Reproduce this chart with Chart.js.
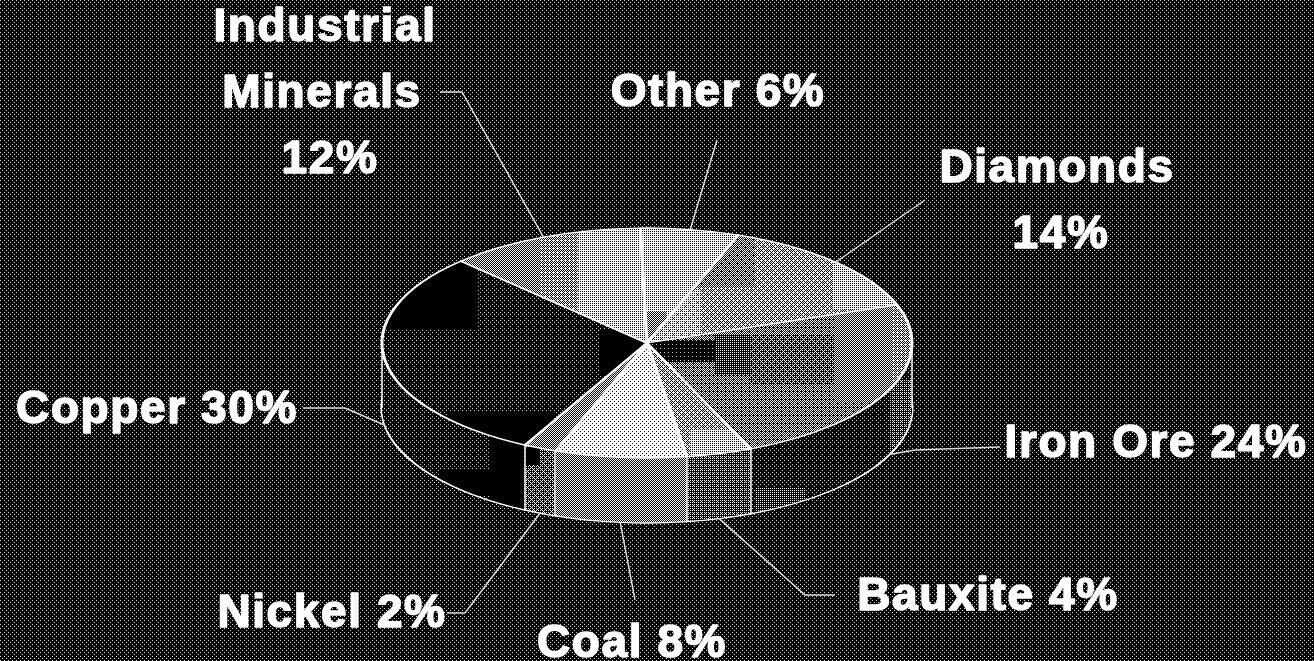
<!DOCTYPE html>
<html>
<head>
<meta charset="utf-8">
<style>
  html, body { margin: 0; padding: 0; background: #000; overflow: hidden; }
  #wrap { width: 1314px; height: 661px; }
</style>
<script src="https://cdn.jsdelivr.net/npm/chart.js@4"></script>
</head>
<body>
<div id="wrap"><canvas id="chart" width="1314" height="661"></canvas></div>
<script>
const categories = ['Copper', 'Industrial Minerals', 'Other', 'Diamonds', 'Iron Ore', 'Bauxite', 'Coal', 'Nickel'];
const shares = [30, 12, 6, 14, 24, 4, 8, 2];
const firstSliceAngle = 207.4;

const W = 1314, H = 661;
const radiusX = 265, radiusY = 115, depth = 65;
const squash = radiusY / radiusX;

// text lines, centre x per line, first baseline and the leader from the label to the elbow
const labelLayout = [
  { lines: ['Copper 30%'], x: [157], y: 423, leader: [[303, 408], [345, 408]] },
  { lines: ['Industrial', 'Minerals', '12%'], x: [325, 322, 330], y: 41, gap: 66, leader: [[440, 92], [462, 92]] },
  { lines: ['Other 6%'], x: [718], y: 106, leader: [[717, 140]] },
  { lines: ['Diamonds', '14%'], x: [1057, 1061], y: 182, gap: 66, leader: [[925, 200]] },
  { lines: ['Iron Ore 24%'], x: [1156], y: 457, leader: [[1000, 447], [915, 450]] },
  { lines: ['Bauxite 4%'], x: [988], y: 610, leader: [[835, 595], [805, 595]] },
  { lines: ['Coal 8%'], x: [632], y: 657, leader: [[635, 600]] },
  { lines: ['Nickel 2%'], x: [332], y: 627, leader: [[447, 613], [465, 613]] }
];

// dither levels: base level + rectangles [x0, y0, x1, y1, level]
const topTextures = [
  [0.11, [[380, 255, 478, 330, 0], [600, 330, 650, 375, 0], [447, 412, 553, 445, 0]]],
  [0.5, [[540, 225, 578, 340, 0.56], [578, 225, 660, 345, 0.75]]],
  [0.75, [[645, 312, 666, 342, 0.5]]],
  [0.6, [[697, 235, 755, 287, 0.47], [833, 262, 900, 310, 0.75], [640, 290, 700, 345, 0.72]]],
  [0.45, [[650, 340, 715, 362, 0.06], [715, 335, 750, 375, 0.25], [750, 335, 835, 385, 0.34], [835, 300, 890, 400, 0.5], [890, 300, 915, 400, 0.56]]],
  [0.6, [[690, 430, 760, 460, 0.75]]],
  [0.88, []],
  [0.5, []]
];
const wallTextures = [
  [0.11, [[490, 432, 523, 510, 0], [440, 470, 490, 495, 0]]],
  [0.11, []],
  [0.11, []],
  [0.11, []],
  [0.11, [[890, 380, 915, 460, 0.3], [755, 488, 805, 512, 0.25]]],
  [0.3, []],
  [0.5, []],
  [0.34, [[525, 447, 540, 465, 0]]]
];

const bayer = (() => {
  let m = [[0]];
  while (m.length < 8) {
    const n = m.length, next = [];
    for (let y = 0; y < n * 2; y++) {
      next.push([]);
      for (let x = 0; x < n * 2; x++) {
        const add = [[0, 2], [3, 1]][y >= n ? 1 : 0][x >= n ? 1 : 0];
        next[y].push(4 * m[y % n][x % n] + add);
      }
    }
    m = next;
  }
  return m;
})();

const renderCtx = document.getElementById('chart').getContext('2d');

const makePattern = ([base, rects]) => {
  const c = document.createElement('canvas');
  c.width = W; c.height = H;
  const g = c.getContext('2d');
  const img = g.createImageData(W, H);
  for (let y = 0; y < H; y++) {
    for (let x = 0; x < W; x++) {
      let level = base;
      for (const r of rects) {
        if (x >= r[0] && x < r[2] && y >= r[1] && y < r[3]) level = r[4];
      }
      // the sparse dots read greyer than pure white in the reference
      const on = level < 0.2 ? 215 : 255;
      const v = level > (bayer[y & 7][x & 7] + 0.5) / 64 ? on : 0;
      const i = (y * W + x) * 4;
      img.data[i] = img.data[i + 1] = img.data[i + 2] = v;
      img.data[i + 3] = 255;
    }
  }
  g.putImageData(img, 0, 0);
  return renderCtx.createPattern(c, 'repeat');
};

const backgroundPattern = makePattern([0.11, []]);
const topPatterns = topTextures.map(makePattern);
const wallPatterns = wallTextures.map(makePattern);

const applySquash = (ctx, cy) => {
  ctx.translate(0, cy);
  ctx.scale(1, squash);
  ctx.translate(0, -cy);
};

const lockPattern = (ctx, pattern) => pattern.setTransform(ctx.getTransform().inverse());

const pie3d = {
  id: 'pie3d',
  beforeDraw(chart) {
    const ctx = chart.ctx;
    ctx.save();
    ctx.fillStyle = backgroundPattern;
    ctx.fillRect(0, 0, W, H);
    ctx.restore();
  },
  beforeDatasetsDraw(chart) {
    const ctx = chart.ctx;
    const arcs = chart.getDatasetMeta(0).data;
    const cx = arcs[0].x, cy = arcs[0].y;

    // side wall: same slices stacked from the bottom up
    for (let d = depth; d > 0; d--) {
      ctx.save();
      ctx.translate(0, d);
      applySquash(ctx, cy);
      arcs.forEach((arc, i) => {
        lockPattern(ctx, wallPatterns[i]);
        const opts = arc.options;
        arc.options = Object.assign({}, opts, {
          backgroundColor: wallPatterns[i],
          borderWidth: d === depth ? 3 : 0
        });
        arc.draw(ctx);
        arc.options = opts;
      });
      ctx.restore();
    }

    // wall edges
    ctx.save();
    ctx.strokeStyle = '#fff';
    ctx.lineWidth = 1.5;
    const edges = arcs.map(a => a.startAngle).filter(a => Math.sin(a) > 0);
    edges.push(0, Math.PI);
    edges.forEach(a => {
      const x = Math.round(cx + radiusX * Math.cos(a));
      const y = cy + radiusY * Math.sin(a);
      ctx.beginPath();
      ctx.moveTo(x, y);
      ctx.lineTo(x, y + depth);
      ctx.stroke();
    });
    ctx.restore();

    ctx.save();
    applySquash(ctx, cy);
    arcs.forEach((arc, i) => lockPattern(ctx, topPatterns[i]));
  },
  afterDatasetsDraw(chart) {
    const ctx = chart.ctx;
    ctx.restore();
    const arcs = chart.getDatasetMeta(0).data;

    ctx.save();
    ctx.strokeStyle = '#ddd';
    ctx.lineWidth = 1.5;
    arcs.forEach((arc, i) => {
      const mid = (arc.startAngle + arc.endAngle) / 2;
      const sin = Math.sin(mid);
      const rimX = arc.x + radiusX * Math.cos(mid);
      const rimY = arc.y + radiusY * sin + (sin > 0 ? depth : 0);
      ctx.beginPath();
      labelLayout[i].leader.forEach((p, j) => j ? ctx.lineTo(p[0], p[1]) : ctx.moveTo(p[0], p[1]));
      ctx.lineTo(rimX, rimY);
      ctx.stroke();
    });

    ctx.fillStyle = '#fff';
    ctx.strokeStyle = '#fff';
    ctx.lineWidth = 1.6;
    ctx.lineJoin = 'round';
    ctx.font = 'bold 46px "Liberation Sans", Arial, sans-serif';
    ctx.letterSpacing = '1.6px';
    ctx.textAlign = 'center';
    ctx.textBaseline = 'alphabetic';
    labelLayout.forEach(l => {
      l.lines.forEach((t, j) => {
        ctx.fillText(t, l.x[j], l.y + j * (l.gap || 0));
        ctx.strokeText(t, l.x[j], l.y + j * (l.gap || 0));
      });
    });
    ctx.restore();
  }
};

const chart = new Chart(document.getElementById('chart'), {
  type: 'pie',
  data: {
    labels: categories,
    datasets: [{
      data: shares,
      backgroundColor: topPatterns,
      borderColor: '#fff',
      borderWidth: 3,
      radius: radiusX,
      clip: false
    }]
  },
  options: {
    responsive: false,
    animation: false,
    events: [],
    rotation: firstSliceAngle,
    layout: { padding: { top: 25, right: 20 } },
    plugins: { legend: { display: false }, tooltip: { enabled: false } }
  },
  plugins: [pie3d]
});
</script>
</body>
</html>
